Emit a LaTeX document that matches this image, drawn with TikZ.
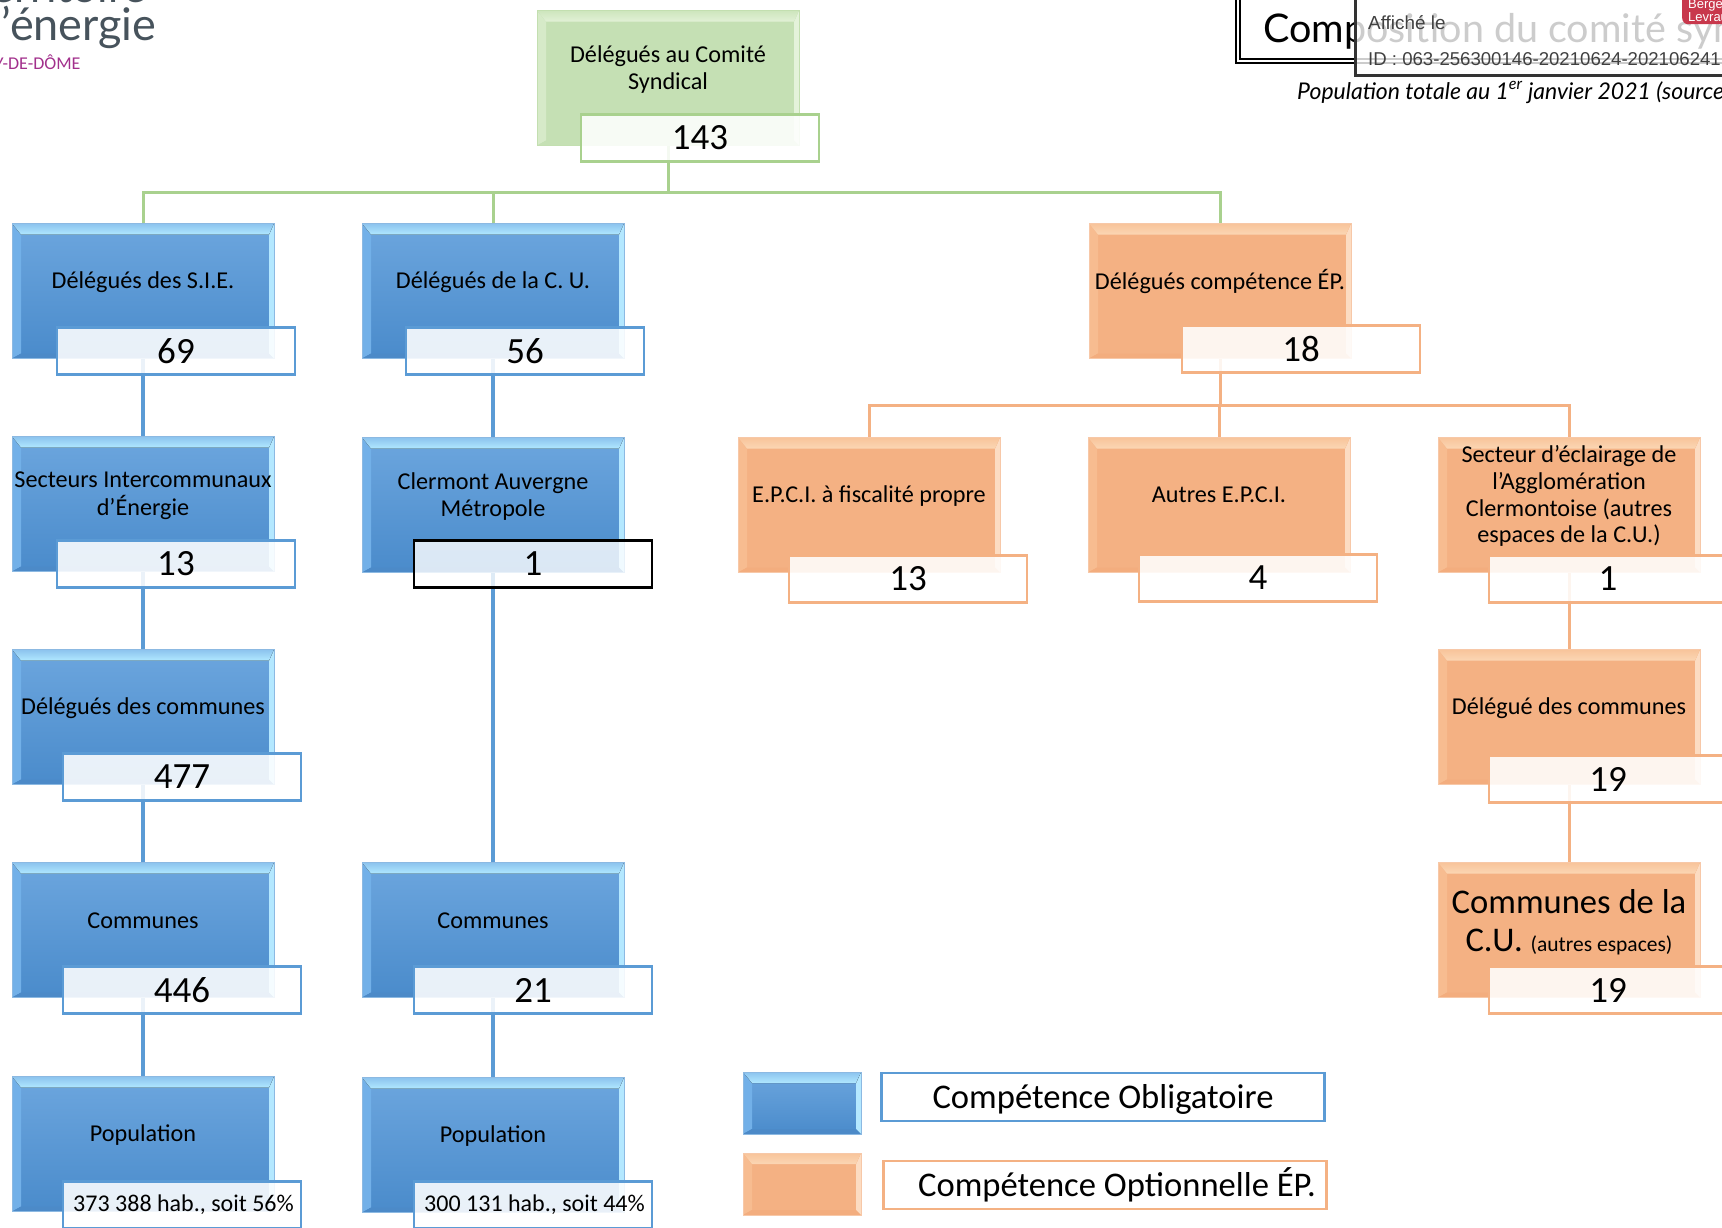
\documentclass[tikz,border=0pt]{standalone}
\usepackage{fontspec}
\setmainfont{Carlito}
\newfontfamily\titlefont{Lato}
\newfontfamily\stampfont{Liberation Sans}
\usetikzlibrary{backgrounds}

\definecolor{blueline}{HTML}{5B9BD5}
\definecolor{orangeline}{HTML}{F4B183}
\definecolor{greenline}{HTML}{A9D18E}
\definecolor{logogrey}{HTML}{47535C}
\definecolor{logopurple}{HTML}{A2308C}
\definecolor{stampred}{HTML}{C8384C}
% body and the four bevel bands of the boxes
\definecolor{bluetop}{HTML}{6CA6DE}
\definecolor{bluebot}{HTML}{4A8BCB}
\definecolor{blueA}{HTML}{8CC3EE}
\definecolor{blueB}{HTML}{B0E8FF}
\definecolor{blueL}{HTML}{72B0E8}
\definecolor{blueR}{HTML}{B4E8FF}
\definecolor{blueD}{HTML}{4C8AC8}
\definecolor{orangeA}{HTML}{F8C49A}
\definecolor{orangeB}{HTML}{FBD6B4}
\definecolor{orangeL}{HTML}{F7BC90}
\definecolor{orangeR}{HTML}{FCDCC2}
\definecolor{orangeD}{HTML}{F3AD7E}
\definecolor{greenA}{HTML}{CDE5BD}
\definecolor{greenB}{HTML}{E2F1D6}
\definecolor{greenL}{HTML}{D6EAC8}
\definecolor{greenR}{HTML}{E4F2DA}
\definecolor{greenD}{HTML}{C5E0B4}

% text sits a little above the middle of the box
\newcommand{\up}[2][15pt]{\raisebox{0pt}[\height][\dimexpr\depth+#1\relax]{\begin{tabular}{@{}c@{}}#2\end{tabular}}}
\newcommand{\px}[1]{\fontsize{#1}{1.1\dimexpr#1pt\relax}\selectfont}

\tikzset{
  bevel/.style={
    path picture={
      \coordinate (nw) at (path picture bounding box.north west);
      \coordinate (ne) at (path picture bounding box.north east);
      \coordinate (sw) at (path picture bounding box.south west);
      \coordinate (se) at (path picture bounding box.south east);
      \fill[#1L] (nw) -- ([xshift=9pt,yshift=-11pt]nw) -- ([xshift=9pt,yshift=5pt]sw) -- (sw) -- cycle;
      \fill[#1R] (ne) -- ([xshift=-5pt,yshift=-11pt]ne) -- ([xshift=-5pt,yshift=5pt]se) -- (se) -- cycle;
      \fill[#1D] (sw) -- ([xshift=9pt,yshift=5pt]sw) -- ([xshift=-5pt,yshift=5pt]se) -- (se) -- cycle;
      \fill[top color=#1A,bottom color=#1B] (nw) -- ([xshift=9pt,yshift=-11pt]nw) -- ([xshift=-5pt,yshift=-11pt]ne) -- (ne) -- cycle;
    }
  },
  basebox/.style={rectangle,minimum width=262pt,minimum height=135pt,inner sep=0pt,line width=1pt,font=\px{24.2}},
  bluebox/.style={basebox,draw=blueline!70,top color=bluetop,bottom color=bluebot,bevel=blue},
  orangebox/.style={basebox,draw=orangeline!70,fill=orangeline,bevel=orange},
  greenbox/.style={basebox,draw=greenline!70,fill=greenD,bevel=green},
  count/.style={rectangle,minimum width=238pt,minimum height=47pt,inner sep=0pt,line width=2.2pt,
    fill=white,fill opacity=.88,text opacity=1,font=\px{37}},
  bluecount/.style={count,draw=blueline},
  orangecount/.style={count,draw=orangeline},
  greencount/.style={count,draw=greenline},
  legendtext/.style={minimum width=443pt,minimum height=48pt,fill opacity=1,font=\px{34.6}},
  blueedge/.style={draw=blueline,line width=3.5pt},
  orangeedge/.style={draw=orangeline,line width=3pt},
  greenedge/.style={draw=greenline,line width=3pt}
}

\begin{document}
\begin{tikzpicture}[x=1pt,y=-1pt]
    \useasboundingbox (0,0) rectangle (1722,1227);
    \clip (0,0) rectangle (1722,1227);

    % logo
    \node [anchor=base east,text=logogrey,font=\titlefont\px{44}] (terr) at (150,2) {territoire};
    \node [anchor=base east,text=logogrey,font=\titlefont\px{45}] (ener) at (160,40) {d’énergie};
    \node [anchor=base east,text=logopurple,font=\px{18}] (puy) at (84,69) {PUY-DE-DÔME};

    % title and stamp
    \node [anchor=south west,draw,double,line width=1.7pt,double distance=2pt,minimum width=600pt,minimum height=90pt,
        inner sep=0pt] (titlebox) at (1237,62) {};
    \node [anchor=base west,inner sep=0pt,font=\titlefont\px{39.5}] (title) at (1263,42) {Composition du comité syndical};
    \node [anchor=north west,draw=black!80,line width=3pt,fill=white,fill opacity=.8,minimum width=500pt,minimum height=90pt] (stamp) at (1354,-16) {};
    \node [anchor=north west,fill=stampred,rounded corners=6pt,minimum width=80pt,minimum height=34pt,inner sep=0pt] (logo) at (1682,-10) {};
    \node [anchor=base west,inner sep=0pt,text=white,font=\stampfont\px{13}] (logotext) at (1688,8) {Berger};
    \node [anchor=base west,inner sep=0pt,text=white,font=\stampfont\px{13}] (logotext2) at (1688,21) {Levrault};
    \node [anchor=base west,inner sep=0pt,text=black!75,font=\stampfont\px{18.9}] (aff) at (1368,29) {Affiché le};
    \node [anchor=base west,inner sep=0pt,text=black!75,font=\stampfont\px{18.6}] (id) at (1368,65) {ID : 063-256300146-20210624-202106241};
    \node [anchor=base west,inner sep=0pt,font=\titlefont\itshape\px{23}] (pop) at (1297,99) {Population totale au 1\textsuperscript{er} janvier 2021 (source};

    % top
    \node [greenbox] (top) at (668,78) {\up{Délégués au Comité\\Syndical}};
    \node [greencount] (topn) at (700,138) {143};

    % first column
    \node [bluebox] (sie) at (143,291) {\up{Délégués des S.I.E.}};
    \node [bluecount] (sien) at (176,351) {69};
    \node [bluebox] (sec) at (143,504) {\up{Secteurs Intercommunaux\\d’Énergie}};
    \node [bluecount] (secn) at (176,564) {13};
    \node [bluebox] (del) at (143,717) {\up{Délégués des communes}};
    \node [bluecount] (deln) at (182,777) {477};
    \node [bluebox] (com) at (143,930) {\up[13pt]{Communes}};
    \node [bluecount] (comn) at (182,990) {446};
    \node [bluebox] (popa) at (143,1144) {\up{Population}};
    \node [bluecount,font=\px{24}] (popan) at (182,1205) {\hspace*{3pt}373 388 hab., soit 56\%};

    % second column
    \node [bluebox] (cu) at (493,291) {\up{Délégués de la C. U.}};
    \node [bluecount] (cun) at (525,351) {56};
    \node [bluebox] (cm) at (493,505) {\up{Clermont Auvergne\\Métropole}};
    \node [count,draw=black,fill opacity=.8] (cmn) at (533,564) {1};
    \node [bluebox] (comb) at (493,930) {\up[13pt]{Communes}};
    \node [bluecount] (combn) at (533,990) {21};
    \node [bluebox] (popb) at (493,1145) {\up{Population}};
    \node [bluecount,font=\px{24}] (popbn) at (533,1205) {\hspace*{3pt}300 131 hab., soit 44\%};

    % orange part
    \node [orangebox] (ep) at (1220,291) {\up{Délégués compétence ÉP.}};
    \node [orangecount] (epn) at (1301,349) {18};
    \node [orangebox] (epci) at (869,505) {\up{E.P.C.I. à fiscalité propre}};
    \node [orangecount] (epcin) at (908,579) {13};
    \node [orangebox] (autre) at (1219,505) {\up{Autres E.P.C.I.}};
    \node [orangecount] (autren) at (1258,578) {4};
    \node [orangebox] (ecl) at (1569,505) {\up{Secteur d’éclairage de\\l’Agglomération\\Clermontoise (autres\\espaces de la C.U.)}};
    \node [orangecount] (ecln) at (1608,579) {1};
    \node [orangebox] (dco) at (1569,717) {\up{Délégué des communes}};
    \node [orangecount] (dcon) at (1608,779) {19};
    \node [orangebox,font=\px{34.6}] (ccu) at (1569,930) {\up[10pt]{Communes de la\\C.U. {\px{21.5}(autres espaces)}}};
    \node [orangecount] (ccun) at (1608,990) {19};

    % legend
    \node [bluebox,minimum width=118pt,minimum height=62pt] (legb) at (802,1103) {};
    \node [bluecount,legendtext] (legbt) at (1103,1097) {\raisebox{0pt}[\dimexpr\height+4pt\relax][\depth]{Compétence Obligatoire}};
    \node [orangebox,minimum width=118pt,minimum height=62pt] (lego) at (802,1184) {};
    \node [orangecount,legendtext] (legot) at (1105,1185) {\hspace*{24pt}Compétence Optionnelle ÉP.};

    \coordinate (greenbus) at (668,192);
    \coordinate (orangebus) at (1220,405);

    \begin{scope}[on background layer]
        \draw [greenedge] (top.south) -- (greenbus);
        \draw [greenedge] (sie.north) |- (greenbus) -| (ep.north);
        \draw [greenedge] (cu.north) -- (cu.north |- greenbus);
        \draw [orangeedge] (ep.south) -- (orangebus);
        \draw [orangeedge] (epci.north) |- (orangebus) -| (ecl.north);
        \draw [orangeedge] (autre.north) -- (autre.north |- orangebus);
        \draw [orangeedge] (ecl.south) -- (dco.north);
        \draw [orangeedge] (dco.south) -- (ccu.north);
        \draw [blueedge] (sie.south) -- (sec.north);
        \draw [blueedge] (sec.south) -- (del.north);
        \draw [blueedge] (del.south) -- (com.north);
        \draw [blueedge] (com.south) -- (popa.north);
        \draw [blueedge] (cu.south) -- (cm.north);
        \draw [blueedge] (cm.south) -- (comb.north);
        \draw [blueedge] (comb.south) -- (popb.north);
    \end{scope}
\end{tikzpicture}
\end{document}
